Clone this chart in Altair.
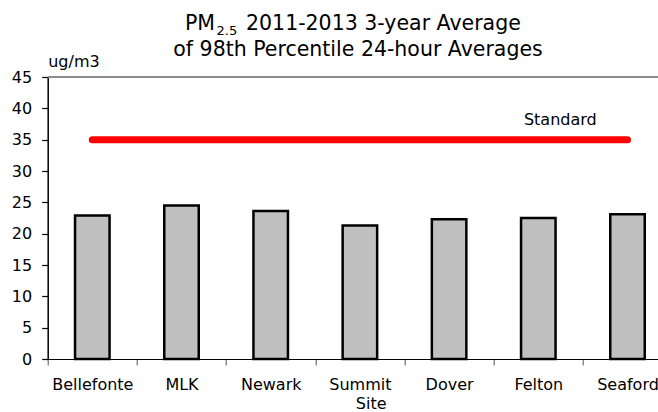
import altair as alt
import pandas as pd

# Monitoring sites and their 2011-2013 3-year average of 98th percentile 24-hour PM2.5
sites = ["Bellefonte", "MLK", "Newark", "Summit", "Dover", "Felton", "Seaford"]
pm25_98th = [22.9, 24.5, 23.6, 21.3, 22.3, 22.5, 23.1]
standard = 35
y_ticks = [0, 5, 10, 15, 20, 25, 30, 35, 40, 45]
y_max = 45

FONT = "DejaVu Sans"

# Frame of the plot area (pixels)
LEFT, TOP = 47.7, 77
PLOT_W, PLOT_H = 610.3, 282
BOTTOM = 412 - TOP - PLOT_H
BAND = 89.2  # width of one site's band; the last band runs past the right edge

bars_df = pd.DataFrame({"site": sites, "value": pm25_98th})
std_df = pd.DataFrame({"site": [sites[0], sites[-1]], "value": [standard, standard]})

x_scale = alt.Scale(domain=sites, range=[0, BAND * len(sites)], paddingInner=0, paddingOuter=0)
y_scale = alt.Scale(domain=[0, y_max], nice=False, zero=True)

x_axis = alt.Axis(
    title="Site",
    titleFont=FONT,
    titleFontSize=16,
    titleFontWeight="normal",
    titleColor="black",
    titleX=323,
    titleY=49,
    titleBaseline="alphabetic",
    labelFont=FONT,
    labelFontSize=16,
    labelColor="black",
    labelAngle=0,
    labelPadding=11,
    labelOverlap=False,
    labelBound=False,
    labelFlush=False,
    tickBand="extent",
    tickSize=6,
    tickColor="#555555",
    domainColor="black",
    domainWidth=1.2,
    grid=False,
)
y_axis = alt.Axis(
    values=y_ticks,
    title="ug/m3",
    titleFont=FONT,
    titleFontSize=16,
    titleFontWeight="normal",
    titleColor="black",
    titleAngle=0,
    titleAlign="left",
    titleBaseline="alphabetic",
    titleX=0,
    titleY=-11,
    labelFont=FONT,
    labelFontSize=16,
    labelColor="black",
    labelPadding=10,
    labelOverlap=False,
    labelFlush=False,
    labelBound=False,
    ticks=True,
    tickSize=6,
    tickWidth=1.2,
    tickColor="black",
    domainColor="black",
    domainWidth=1.5,
    grid=False,
)


def xs():
    return alt.X("site:N", sort=sites, scale=x_scale, axis=x_axis)


def ys(field="value"):
    return alt.Y(f"{field}:Q", scale=y_scale, axis=y_axis)


bars = alt.Chart(bars_df).mark_bar(
    width=34.5, color="#c0c0c0", stroke="black", strokeWidth=2.5
).encode(x=xs(), y=ys())

# Gray frame line along the top of the plot area
top_line = alt.Chart(pd.DataFrame({"top": [y_max]})).mark_rule(
    color="#8c8c8c", strokeWidth=2
).encode(y=ys("top"), x=alt.value(0), x2=alt.value(PLOT_W))

std_line = alt.Chart(std_df).mark_line(
    color="#ff0000", strokeWidth=7, strokeCap="round"
).encode(x=xs(), y=ys())

std_label = alt.Chart(pd.DataFrame({"site": ["Felton"], "value": [standard], "t": ["Standard"]})).mark_text(
    font=FONT, fontSize=16, color="black", align="center", baseline="alphabetic", dx=22, dy=-14.5
).encode(x=xs(), y=ys(), text="t:N")


def title_piece(txt, x, y, size, align="left"):
    return alt.Chart(pd.DataFrame({"t": [txt]})).mark_text(
        font=FONT, fontSize=size, color="black", align=align, baseline="alphabetic"
    ).encode(text="t:N", x=alt.value(x), y=alt.value(y))


title = (
    title_piece("PM", 185 - LEFT, 29.5 - TOP, 20.5)
    + title_piece("2.5", 216.5 - LEFT, 35 - TOP, 13)
    + title_piece("2011-2013 3-year Average", 246 - LEFT, 29.5 - TOP, 20.5)
    + title_piece("of 98th Percentile 24-hour Averages", 358 - LEFT, 55.5 - TOP, 20.5, align="center")
)

chart = (
    alt.layer(bars, top_line, std_line, std_label, title)
    .properties(
        width=PLOT_W,
        height=PLOT_H,
        autosize=alt.AutoSizeParams(type="none"),
        padding={"left": LEFT, "top": TOP, "right": 0, "bottom": BOTTOM},
    )
    .configure_view(stroke=None)
    .configure(background="white")
)

chart.save("out.html", embed_options={"renderer": "svg", "actions": False})
